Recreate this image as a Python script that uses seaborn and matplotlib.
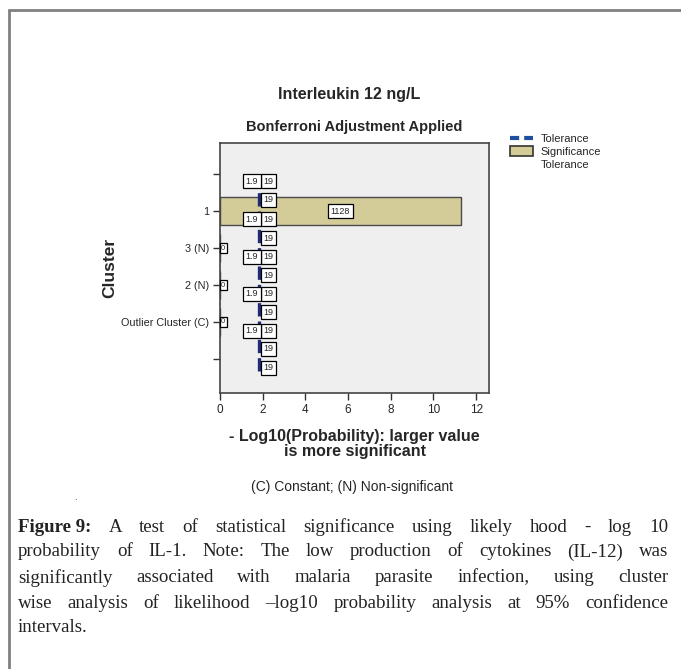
import numpy as np
import pandas as pd
import matplotlib
matplotlib.use("Agg")
import matplotlib.pyplot as plt
import seaborn as sns
from matplotlib.lines import Line2D
from matplotlib.patches import Patch

# ---------------- data ----------------
cluster_order = ["", "1", "3 (N)", "2 (N)", "Outlier Cluster (C)", " "]
clusters = ["1", "3 (N)", "2 (N)", "Outlier Cluster (C)"]
significance = [11.28, 0.0, 0.0, 0.0]
value_labels = ["1128", "0", "0", "0"]
tolerance = 1.82
tol_label_right = "19"
tol_label_left = "1.9"
tol_label_y = [0.19, 0.70, 1.22, 1.73, 2.24, 2.73, 3.24, 3.73, 4.24, 4.73, 5.24]
tol_label_left_y = [0.19, 1.22, 2.24, 3.24, 4.24]
x_ticks = [0, 2, 4, 6, 8, 10, 12]

main_title = "Interleukin 12 ng/L"
sub_title = "Bonferroni Adjustment Applied"
x_label = "- Log10(Probability): larger value\nis more significant"
y_label = "Cluster"
footnote = "(C) Constant; (N) Non-significant"
caption_lines = [
    [("Figure 9:", True), ("A", False), ("test", False), ("of", False), ("statistical", False),
     ("significance", False), ("using", False), ("likely", False), ("hood", False), ("-", False),
     ("log", False), ("10", False)],
    [(w, False) for w in "probability of IL-1. Note: The low production of cytokines (IL-12) was".split(" ")],
    [(w, False) for w in "significantly associated with malaria parasite infection, using cluster".split(" ")],
    [(w, False) for w in "wise analysis of likelihood \u2013log10 probability analysis at 95% confidence".split(" ")],
    [(w, False) for w in "intervals.".split(" ")],
]

df = pd.DataFrame({"Cluster": clusters, "Significance": significance})

# ---------------- style ----------------
sns.set_theme(style="white")
plt.rcParams["font.family"] = ["Liberation Sans Narrow", "Liberation Sans", "DejaVu Sans"]

W, H = 681, 669
fig = plt.figure(figsize=(W / 100, H / 100), dpi=100)
fig.patch.set_facecolor("white")

def fx(px):
    return px / W

def fy(py):
    return 1 - py / H

ax_l, ax_r, ax_t, ax_b = 220, 489, 143, 393
ax = fig.add_axes([fx(ax_l), fy(ax_b), fx(ax_r - ax_l), (ax_b - ax_t) / H])
ax.set_facecolor("#EFEFEF")

bar_color = "#D3CC98"
sns.barplot(data=df, x="Significance", y="Cluster", order=cluster_order, orient="h",
            color=bar_color, saturation=1, width=0.78, edgecolor="#4A4A4A",
            linewidth=1.0, ax=ax, zorder=2)

ax.set_xlim(0, 12.6)
ax.set_ylim(5.92, -0.84)
ax.set_xticks(x_ticks)
ax.set_xticklabels([str(t) for t in x_ticks], fontsize=8.5)
ax.set_yticks(range(len(cluster_order)))
ax.set_yticklabels(cluster_order, fontsize=7.8)
ax.tick_params(axis="both", which="both", length=5, width=1, color="#333333",
               bottom=True, left=True, pad=3)
for s in ax.spines.values():
    s.set_color("#444444")
    s.set_linewidth(1.2)

# tolerance line
ax.axvline(tolerance, ymin=0.09, ymax=0.88, color="#1F2A7A", lw=2.4,
           dashes=(4, 1.5), zorder=3)

box = dict(boxstyle="square,pad=0.3", fc="white", ec="black", lw=0.9)
for yv in tol_label_y:
    ax.text(tolerance + 0.22, yv, tol_label_right, ha="left", va="center",
            fontsize=6.5, bbox=box, zorder=5)
for yv in tol_label_left_y:
    ax.text(tolerance - 0.03, yv, tol_label_left, ha="right", va="center",
            fontsize=6.5, bbox=box, zorder=5)

# value labels
for cl, val, lab in zip(clusters, significance, value_labels):
    yi = cluster_order.index(cl)
    if val > 0:
        ax.text(val / 2, yi, lab, ha="center", va="center", fontsize=6.5, bbox=box, zorder=5)
    else:
        ax.text(0.05, yi, lab, ha="left", va="center", fontsize=5.5, zorder=5,
                bbox=dict(boxstyle="square,pad=0.2", fc="white", ec="black", lw=0.9))

ax.set_title(sub_title, fontsize=10.5, fontweight="bold", pad=9)
ax.set_xlabel(x_label, fontsize=11.5, fontweight="bold", linespacing=1.0, labelpad=9)
ax.set_ylabel(y_label, fontsize=12.5, fontweight="bold")
ax.yaxis.set_label_coords((117 - ax_l) / (ax_r - ax_l), 0.5)

fig.text(fx(349), fy(95), main_title, ha="center", va="center", fontsize=11.5, fontweight="bold")
fig.text(fx(352), fy(487), footnote, ha="center", va="center", fontsize=10)
fig.text(fx(75), fy(497), ".", ha="center", va="center", fontsize=7)

# legend
handles = [Line2D([0], [0], color="#1F4FA0", lw=3, dashes=(2.2, 1.2)),
           Patch(facecolor=bar_color, edgecolor="#333333", lw=1.2),
           Line2D([0], [0], color="none")]
fig.legend(handles, ["Tolerance", "Significance", "Tolerance"], loc="upper left",
           bbox_to_anchor=(fx(506), fy(129)), frameon=False, fontsize=8,
           handlelength=2.0, handleheight=1.0, labelspacing=0.2, handletextpad=0.7,
           borderaxespad=0)

# outer border
fig.add_artist(Line2D([fx(9), 1.0], [fy(10), fy(10)], color="#808080", lw=2))
fig.add_artist(Line2D([fx(9), fx(9)], [fy(10), 0.0], color="#808080", lw=2))

# caption (justified)
fig.canvas.draw()
renderer = fig.canvas.get_renderer()
cap_x0, cap_x1 = 18, 668
cap_y = [527, 552, 578, 603, 628]
cap_font = ["Liberation Serif", "DejaVu Serif"]
cap_size = 13.6
for li, (words, yv) in enumerate(zip(caption_lines, cap_y)):
    arts = []
    for w, bold in words:
        t = fig.text(0, fy(yv), w, ha="left", va="center", fontsize=cap_size,
                     family=cap_font, fontweight="bold" if bold else "normal", color="#222222")
        arts.append(t)
    widths = [a.get_window_extent(renderer).width for a in arts]
    last = li == len(caption_lines) - 1
    if last or len(arts) == 1:
        gap = 4.5
    else:
        gap = (cap_x1 - cap_x0 - sum(widths)) / (len(arts) - 1)
    x = cap_x0
    for a, wd in zip(arts, widths):
        a.set_x(fx(x))
        x += wd + gap

fig.savefig("out.png", dpi=100)
